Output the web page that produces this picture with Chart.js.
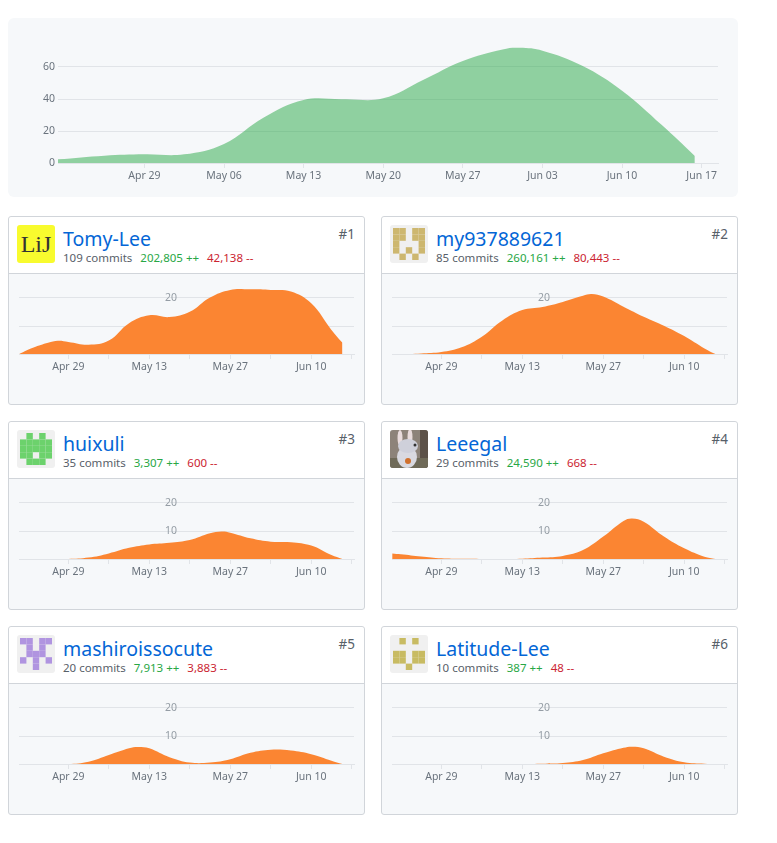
<!DOCTYPE html>
<html>
<head>
<meta charset="utf-8">
<script src="https://cdn.jsdelivr.net/npm/chart.js@4"></script>
<style>
  body { margin: 0; background: #fff; font-family: "Noto Sans", sans-serif; color: #586069; }
  #page { position: relative; width: 777px; height: 843px; overflow: hidden; }
  .overview { position: absolute; left: 8px; top: 18px; width: 730px; height: 179px; background: #f6f8fa; border-radius: 6px; }
  .card { position: absolute; width: 355px; height: 187px; border: 1px solid #d1d5da; border-radius: 3px; background: #f6f8fa; }
  .head { position: absolute; left: 0; top: 0; width: 355px; height: 56px; background: #fff; border-bottom: 1px solid #d1d5da; border-radius: 3px 3px 0 0; }
  .avatar { position: absolute; left: 8px; top: 8px; width: 38px; height: 38px; border-radius: 3px; overflow: hidden; background: #f0f0f0; }
  .name { position: absolute; left: 54px; top: 8px; font-size: 19.5px; line-height: 28px; color: #0366d6; white-space: nowrap; }
  .stats { position: absolute; left: 54px; top: 33px; font-size: 11.5px; line-height: 16px; white-space: nowrap; }
  .stats span { margin-right: 8px; }
  .add { color: #28a745; }
  .del { color: #cb2431; }
  .rank { position: absolute; right: 9px; top: 7px; font-size: 13.5px; line-height: 20px; }
  canvas { position: absolute; }
</style>
</head>
<body>
<div id="page">
  <div class="overview"><canvas id="overview"></canvas></div>
</div>
<script>
// Axis values, days counted from Apr 29
const weekTicks = [0, 7, 14, 21, 28, 35, 42, 49];
const weekLabels = ["Apr 29", "May 06", "May 13", "May 20", "May 27", "Jun 03", "Jun 10", "Jun 17"];
const smallWeekLabels = ["Apr 29", "", "May 13", "", "May 27", "", "Jun 10", ""];

// Overview
const totalDays = [-7.6, -3.5, 0, 3.5, 7, 10.5, 14, 17.5, 21, 24.5, 28, 31.5, 33, 35, 38.5, 42, 45.5, 48.4];
const totalCommits = [2.3, 4.6, 5.4, 5.4, 11.9, 28.5, 39.4, 39.8, 40.4, 51.9, 63.8, 71, 72, 70.2, 60.8, 45.2, 23.7, 4.4];

// Contributors
const names = ["Tomy-Lee", "my937889621", "huixuli", "Leeegal", "mashiroissocute", "Latitude-Lee"];
const commits = ["109 commits", "85 commits", "35 commits", "29 commits", "20 commits", "10 commits"];
const additions = ["202,805 ++", "260,161 ++", "3,307 ++", "24,590 ++", "7,913 ++", "387 ++"];
const deletions = ["42,138 --", "80,443 --", "600 --", "668 --", "3,883 --", "48 --"];

const tomyDays = [-8.5, -6, -3.5, -1.8, 0, 3.5, 7, 10.5, 14, 17.5, 21, 24.5, 28, 31.5, 35, 38.5, 42, 45.5, 47.4];
const tomyValues = [0, 2.3, 4, 4.7, 4.3, 3.3, 4.8, 11, 13.8, 13.2, 15.1, 20.2, 22.9, 23.1, 22.9, 22.3, 18.1, 8.6, 4];
const my93Days = [-8.5, -5.5, -3.5, 0, 3.5, 7, 10.5, 14, 17.5, 21, 24.5, 26, 28, 31.5, 35, 38.5, 42, 45.5, 47.4];
const my93Values = [0, 0, 0.2, 0.7, 2.4, 6.2, 11.9, 15.7, 16.8, 18.6, 20.8, 21.4, 20.5, 16.9, 13.3, 10.1, 6.4, 2, 0];
const huixuliDays = [-8.5, 0, 3.5, 7, 10.5, 14, 17.5, 21, 24.5, 26.5, 28, 31.5, 35, 38.5, 42, 45.5, 47.4];
const huixuliValues = [0, 0, 0.5, 2, 4, 5.2, 5.8, 6.8, 9.2, 9.8, 9.4, 7.4, 6.2, 6, 4.8, 1.4, 0];
const leeegalDays = [-8.5, -7, -3.5, 0, 3.5, 7, 10.5, 14, 17.5, 21, 24.5, 28, 31.5, 33, 35, 38.5, 42, 45.5, 47.4];
const leeegalValues = [2, 1.7, 0.9, 0.25, 0.05, 0, 0, 0.1, 0.5, 1.1, 3.2, 8, 13.6, 14.5, 13.3, 8, 3.8, 0.8, 0];
const mashiroDays = [-8.5, 0, 3.5, 7, 10.5, 12, 14, 17.5, 21, 24.5, 28, 31.5, 35, 38.5, 42, 45.5, 47.4];
const mashiroValues = [0, 0, 0.8, 3.2, 5.6, 6.1, 5.6, 2.4, 0.5, 0.5, 1.7, 4, 5.1, 4.8, 3.5, 1.2, 0];
const latitudeDays = [-8.5, 14, 17.5, 21, 24.5, 28, 31.5, 33, 35, 38.5, 42, 45.5, 47.4];
const latitudeValues = [0, 0, 0.1, 0.35, 1.4, 3.8, 5.8, 6.2, 5.6, 2.6, 0.6, 0.1, 0];
const contributorDays = [tomyDays, my93Days, huixuliDays, leeegalDays, mashiroDays, latitudeDays];
const contributorValues = [tomyValues, my93Values, huixuliValues, leeegalValues, mashiroValues, latitudeValues];

// Identicon patterns, 5x5
const identicons = {
  1: { color: "#cdb76f", cells: ["11011", "11011", "10001", "10101", "01010"] },
  2: { color: "#6cd26c", cells: ["01010", "11111", "11111", "11011", "01110"] },
  4: { color: "#b094e0", cells: ["11011", "01010", "01110", "10101", "00100"] },
  5: { color: "#c8bb62", cells: ["01010", "00000", "11011", "11011", "00100"] },
};

const chartFont = '"Noto Sans", sans-serif';
const gridColor = "#e1e4e8";

function xAxis(min, max, labels, height) {
  return {
    type: "linear",
    min: min,
    max: max,
    afterBuildTicks: (axis) => {
      axis.ticks = weekTicks.map((v) => ({ value: v }));
    },
    afterFit: (axis) => {
      axis.height = height;
    },
    grid: { color: gridColor, drawOnChartArea: false, tickLength: 5 },
    border: { color: gridColor },
    ticks: {
      autoSkip: false,
      maxRotation: 0,
      padding: 2,
      color: "#6a737d",
      font: { family: chartFont, size: 10.5 },
      callback: (v) => labels[weekTicks.indexOf(v)],
    },
  };
}

function toPoints(days, values) {
  return days.map((d, i) => ({ x: d, y: values[i] }));
}

// Overview chart
const overviewCanvas = document.getElementById("overview");
overviewCanvas.style.width = "730px";
overviewCanvas.style.height = "179px";
new Chart(overviewCanvas, {
  type: "line",
  data: {
    datasets: [
      {
        data: toPoints(totalDays, totalCommits),
        fill: "origin",
        backgroundColor: "rgba(40, 167, 69, 0.5)",
        borderWidth: 0,
        pointRadius: 0,
        tension: 0.4,
      },
    ],
  },
  options: {
    responsive: false,
    animation: false,
    layout: { padding: { top: 25, right: 20 } },
    plugins: { legend: { display: false }, tooltip: { enabled: false } },
    scales: {
      x: xAxis(-7.6, 50.44, weekLabels, 34),
      y: {
        min: 0,
        max: 75,
        afterBuildTicks: (axis) => {
          axis.ticks = [0, 20, 40, 60].map((v) => ({ value: v }));
        },
        afterFit: (axis) => {
          axis.width = 50;
        },
        grid: { color: gridColor, drawTicks: false },
        border: { display: false },
        ticks: {
          padding: 3,
          color: "#6a737d",
          font: { family: chartFont, size: 10.5 },
        },
      },
    },
  },
});

// Contributor cards
function addAvatar(avatar, i) {
  if (i === 0) {
    avatar.style.background = "#f8fb2e";
    avatar.innerHTML =
      '<svg width="38" height="38"><text x="19" y="27" text-anchor="middle" font-family="Liberation Serif" font-size="24" fill="#333">LiJ</text></svg>';
    return;
  }
  if (i === 3) {
    avatar.innerHTML =
      '<svg width="38" height="38"><rect width="38" height="38" fill="#8d8379"/><rect x="30" width="8" height="38" fill="#5c5148"/>' +
      '<rect y="28" width="38" height="10" fill="#6f6a58"/>' +
      '<ellipse cx="10" cy="8" rx="2.5" ry="8" fill="#e9dcdc"/><ellipse cx="20" cy="7" rx="2.5" ry="8" fill="#e9dcdc"/>' +
      '<ellipse cx="17" cy="27" rx="10" ry="11" fill="#d9d9e0"/><ellipse cx="18" cy="16" rx="10" ry="7" fill="#cfd0da"/>' +
      '<circle cx="25" cy="15" r="1.5" fill="#333"/><circle cx="18" cy="31" r="3" fill="#d0702c"/></svg>';
    return;
  }
  const icon = identicons[i];
  let rects = "";
  icon.cells.forEach((row, r) => {
    row.split("").forEach((cell, c) => {
      if (cell === "1") {
        rects += '<rect x="' + (3 + c * 6.4) + '" y="' + (3 + r * 6.4) + '" width="6.4" height="6.4" fill="' + icon.color + '"/>';
      }
    });
  });
  avatar.innerHTML = '<svg width="38" height="38">' + rects + "</svg>";
}

const page = document.getElementById("page");
names.forEach((name, i) => {
  const card = document.createElement("div");
  card.className = "card";
  card.style.left = (i % 2 === 0 ? 8 : 381) + "px";
  card.style.top = 216 + Math.floor(i / 2) * 205 + "px";
  card.innerHTML =
    '<div class="head"><div class="avatar"></div>' +
    '<div class="name">' + name + "</div>" +
    '<div class="stats"><span>' + commits[i] + '</span><span class="add">' + additions[i] + '</span><span class="del">' + deletions[i] + "</span></div>" +
    '<div class="rank">#' + (i + 1) + "</div></div>";
  addAvatar(card.querySelector(".avatar"), i);

  const canvas = document.createElement("canvas");
  canvas.style.left = "0px";
  canvas.style.top = "57px";
  canvas.style.width = "355px";
  canvas.style.height = "130px";
  card.appendChild(canvas);
  page.appendChild(card);

  new Chart(canvas, {
    type: "line",
    data: {
      datasets: [
        {
          data: toPoints(contributorDays[i], contributorValues[i]),
          fill: "origin",
          backgroundColor: "#fb8532",
          borderWidth: 0,
          pointRadius: 0,
          tension: 0.4,
        },
      ],
    },
    options: {
      responsive: false,
      animation: false,
      layout: { padding: { top: 10, left: 10, right: 10 } },
      plugins: { legend: { display: false }, tooltip: { enabled: false } },
      scales: {
        x: xAxis(-8.53, 49.4, smallWeekLabels, 50),
        y: {
          position: { x: 18.8 },
          min: 0,
          max: 25,
          afterBuildTicks: (axis) => {
            axis.ticks = [0, 10, 20].map((v) => ({ value: v }));
          },
          grid: { color: gridColor, drawTicks: false },
          border: { display: false },
          ticks: {
            padding: 0,
            color: "#959da5",
            font: { family: chartFont, size: 10.5 },
            callback: (v) => (v === 0 ? "" : v),
          },
        },
      },
    },
  });
});
</script>
</body>
</html>
